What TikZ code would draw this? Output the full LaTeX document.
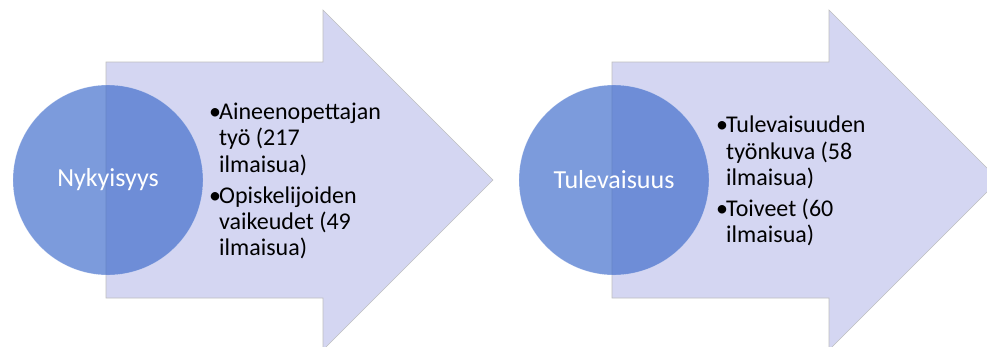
\documentclass[tikz,border=0pt]{standalone}
\usepackage{fontspec}
\setmainfont{Carlito}
\usepackage{xcolor}
\usetikzlibrary{positioning,calc}
\definecolor{arrowfill}{RGB}{212,214,242}
\definecolor{circfill}{RGB}{60,106,203}
\newcommand{\bitem}{\makebox[10pt][l]{•}}
\newcommand{\bhang}{\hspace*{10pt}}

\begin{document}
\begin{tikzpicture}[
    x=1pt, y=-1pt,
    bigarrow/.style={fill=arrowfill, draw=black!25, line width=0.6pt, line join=miter},
    phase/.style={circle, minimum size=190pt, inner sep=0pt, fill=circfill,
                  fill opacity=0.67, text opacity=1, draw=white, draw opacity=0.35,
                  text=white, font=\fontsize{26}{30}\selectfont},
    items/.style={anchor=west, inner sep=0pt, align=left,
                  font=\fontsize{24}{26.4}\selectfont},
]
    \useasboundingbox (0,0) rectangle (987,346);

    % First arrow
    \coordinate (tip1) at (493,180);
    \draw[bigarrow] (106,62) -- (323,62) -- (323,10) -- (tip1)
        -- (323,350) -- (323,298) -- (106,298) -- cycle;
    \node[phase] (now) at (108,180) {Nykyisyys};
    \node[items] (nowlist) at (209,181)
        {\bitem Aineenopettajan\\ \bhang työ (217\\ \bhang ilmaisua)\\[4.5pt]
         \bitem Opiskelijoiden\\ \bhang vaikeudet (49\\ \bhang ilmaisua)};

    % Second arrow
    \coordinate (tip2) at (999,180);
    \draw[bigarrow] (612,62) -- (829,62) -- (829,10) -- (tip2)
        -- (829,350) -- (829,298) -- (612,298) -- cycle;
    \node[phase] (future) at (614,180) {Tulevaisuus};
    \node[items] (futurelist) at (716,181)
        {\bitem Tulevaisuuden\\ \bhang työnkuva (58\\ \bhang ilmaisua)\\[4.5pt]
         \bitem Toiveet (60\\ \bhang ilmaisua)};

\end{tikzpicture}
\end{document}
